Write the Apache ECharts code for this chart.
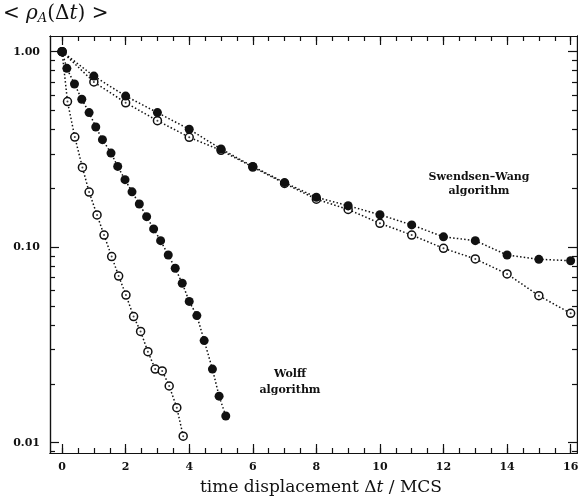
<!DOCTYPE html>
<html>
<head>
<meta charset="utf-8">
<script src="https://cdn.jsdelivr.net/npm/echarts@6/dist/echarts.min.js"></script>
<style>
  html, body { margin: 0; padding: 0; background: #fff; }
  #chart { width: 578px; height: 501px; }
</style>
</head>
<body>
<div id="chart"></div>
<script>
// Swendsen-Wang: one point per MCS
const swTime = [0, 1, 2, 3, 4, 5, 6, 7, 8, 9, 10, 11, 12, 13, 14, 15, 16];
const swFilled = [1.0, 0.75, 0.593, 0.488, 0.401, 0.318, 0.259, 0.214, 0.180, 0.163, 0.1466, 0.130, 0.113, 0.108, 0.0912, 0.0867, 0.0853];
const swOpen = [1.0, 0.70, 0.548, 0.444, 0.365, 0.313, 0.257, 0.212, 0.176, 0.156, 0.1325, 0.1154, 0.0987, 0.0871, 0.0730, 0.0565, 0.0459];

// Wolff
const wolffFilledTime = [0, 0.15, 0.39, 0.62, 0.85, 1.06, 1.27, 1.54, 1.75, 1.98, 2.20, 2.43, 2.66, 2.88, 3.10, 3.34, 3.56, 3.78, 4.00, 4.24, 4.47, 4.73, 4.94, 5.15];
const wolffFilled = [1.0, 0.822, 0.684, 0.571, 0.488, 0.412, 0.355, 0.303, 0.259, 0.2215, 0.192, 0.1664, 0.1433, 0.124, 0.108, 0.0912, 0.078, 0.0654, 0.0528, 0.0447, 0.0333, 0.0238, 0.0173, 0.0137];
const wolffOpenTime = [0, 0.17, 0.40, 0.64, 0.85, 1.10, 1.32, 1.56, 1.78, 2.01, 2.25, 2.47, 2.70, 2.93, 3.15, 3.37, 3.61, 3.81];
const wolffOpen = [1.0, 0.556, 0.366, 0.256, 0.1915, 0.1462, 0.1154, 0.0896, 0.0712, 0.0569, 0.0442, 0.0371, 0.0292, 0.0238, 0.0233, 0.0195, 0.0151, 0.0108];

// ticks
const xMajor = [0, 2, 4, 6, 8, 10, 12, 14, 16];
const xMinor = [0, 0.5, 1, 1.5, 2, 2.5, 3, 3.5, 4, 4.5, 5, 5.5, 6, 6.5, 7, 7.5, 8, 8.5, 9, 9.5, 10, 10.5, 11, 11.5, 12, 12.5, 13, 13.5, 14, 14.5, 15, 15.5, 16];
const yMajor = [0.01, 0.1, 1];
const yMinor = [0.009, 0.02, 0.03, 0.04, 0.05, 0.06, 0.07, 0.08, 0.09, 0.2, 0.3, 0.4, 0.5, 0.6, 0.7, 0.8, 0.9];

const ink = '#111';
const lg = v => Math.log10(v);
const pairs = (t, v) => t.map((x, i) => [x, lg(v[i])]);

const X_MIN = -0.38, X_MAX = 16.2;
const Y_MIN = -2.0527, Y_MAX = 0.0803;

function xAx(pos, ticks, len, labels) {
  return {
    type: 'value', position: pos, min: X_MIN, max: X_MAX,
    axisLine: { show: true, onZero: false, lineStyle: { color: ink, width: 1.2 } },
    axisTick: { show: true, inside: true, length: len, customValues: ticks, lineStyle: { color: ink, width: 1.2 } },
    axisLabel: labels ? {
      show: true, customValues: xMajor, margin: 9, color: ink,
      fontFamily: 'DejaVu Serif', fontWeight: 'bold', fontSize: 11
    } : { show: false },
    splitLine: { show: false }
  };
}
function yAx(pos, ticks, len, labels) {
  return {
    type: 'value', position: pos, min: Y_MIN, max: Y_MAX,
    axisLine: { show: true, onZero: false, lineStyle: { color: ink, width: 1.2 } },
    axisTick: { show: true, inside: true, length: len, customValues: ticks.map(lg), lineStyle: { color: ink, width: 1.2 } },
    axisLabel: labels ? {
      show: true, customValues: yMajor.map(lg), margin: 10, color: ink,
      fontFamily: 'DejaVu Serif', fontWeight: 'bold', fontSize: 11,
      formatter: v => Math.pow(10, v).toFixed(2)
    } : { show: false },
    splitLine: { show: false }
  };
}

const dotted = { color: ink, width: 1.5, type: [1.5, 2.2] };

function filledSeries(t, v) {
  return {
    type: 'line', data: pairs(t, v), symbol: 'circle', symbolSize: 9,
    itemStyle: { color: ink }, lineStyle: dotted, z: 3, animation: false
  };
}
function openSeries(t, v) {
  return [{
    type: 'line', data: pairs(t, v), symbol: 'circle', symbolSize: 8,
    itemStyle: { color: '#fff', borderColor: ink, borderWidth: 1.5 },
    lineStyle: dotted, z: 2, animation: false
  }, {
    type: 'scatter', data: pairs(t, v), symbol: 'circle', symbolSize: 2,
    itemStyle: { color: ink }, z: 4, animation: false
  }];
}

const chart = echarts.init(document.getElementById('chart'));
chart.setOption({
  animation: false,
  grid: { left: 50, right: 1, top: 36, bottom: 48, outerBoundsMode: 'none', containLabel: false },
  xAxis: [xAx('bottom', xMajor, 9, true), xAx('bottom', xMinor, 5, false), xAx('top', xMajor, 9, false), xAx('top', xMinor, 5, false)],
  yAxis: [yAx('left', yMajor, 9, true), yAx('left', yMinor, 5, false), yAx('right', yMajor, 9, false), yAx('right', yMinor, 5, false)],
  series: [
    ...openSeries(swTime, swOpen),
    filledSeries(swTime, swFilled),
    ...openSeries(wolffOpenTime, wolffOpen),
    filledSeries(wolffFilledTime, wolffFilled)
  ],
  graphic: [
    {
      type: 'text', x: 3, y: 14,
      style: {
        text: '{n|< }{i|ρ}{s|A}{n|(Δ}{i|t}{n|) >}',
        verticalAlign: 'middle',
        rich: {
          n: { fontFamily: 'DejaVu Serif', fontSize: 20, fill: ink },
          i: { fontFamily: 'DejaVu Serif', fontStyle: 'italic', fontSize: 20, fill: ink },
          s: { fontFamily: 'DejaVu Serif', fontStyle: 'italic', fontSize: 13, fill: ink, verticalAlign: 'bottom', padding: [9, 0, 0, 0] }
        }
      }
    },
    {
      type: 'text', x: 321, y: 488,
      style: {
        text: '{n|time displacement Δ}{i|t}{n| / MCS}',
        align: 'center', verticalAlign: 'middle',
        rich: {
          n: { fontFamily: 'DejaVu Serif', fontSize: 17, fill: ink },
          i: { fontFamily: 'DejaVu Serif', fontStyle: 'italic', fontSize: 17, fill: ink }
        }
      }
    },
    {
      type: 'text', x: 479, y: 184,
      style: {
        text: 'Swendsen–Wang\nalgorithm', align: 'center', verticalAlign: 'middle',
        fontFamily: 'DejaVu Serif', fontWeight: 'bold', fontSize: 11, lineHeight: 14, fill: ink
      }
    },
    {
      type: 'text', x: 290, y: 382,
      style: {
        text: 'Wolff\nalgorithm', align: 'center', verticalAlign: 'middle',
        fontFamily: 'DejaVu Serif', fontWeight: 'bold', fontSize: 11, lineHeight: 16, fill: ink
      }
    }
  ]
});
</script>
</body>
</html>
